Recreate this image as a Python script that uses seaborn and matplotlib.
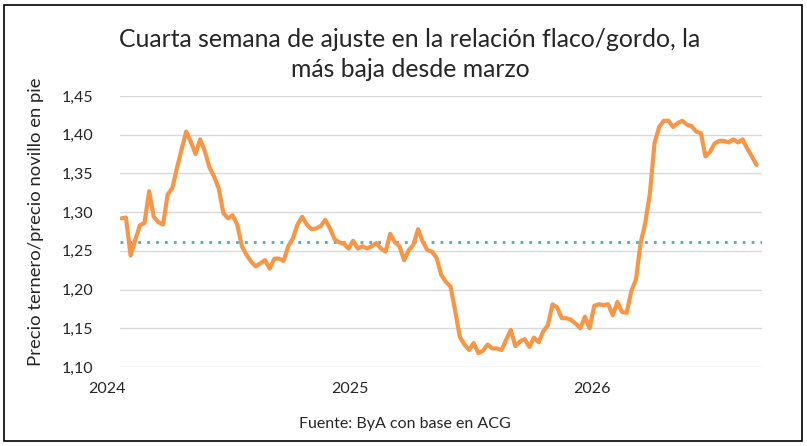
import matplotlib
matplotlib.use("Agg")
import matplotlib.pyplot as plt
import matplotlib.transforms as mtransforms
from matplotlib.patches import Rectangle
import seaborn as sns
import pandas as pd

# -----------------------------
# Data (weekly ratio)
# -----------------------------
start_date = "2024-01-22"
ratio = [
    1.292, 1.293, 1.244, 1.264, 1.283, 1.286, 1.327, 1.294, 1.287, 1.284,
    1.323, 1.331, 1.357, 1.381, 1.404, 1.391, 1.375, 1.394, 1.379, 1.358,
    1.346, 1.331, 1.299, 1.292, 1.296, 1.284, 1.256, 1.245, 1.236, 1.230,
    1.234, 1.238, 1.227, 1.240, 1.240, 1.237, 1.256, 1.266, 1.284, 1.294,
    1.284, 1.278, 1.279, 1.282, 1.290, 1.279, 1.265, 1.261, 1.259, 1.253,
    1.263, 1.253, 1.256, 1.253, 1.256, 1.260, 1.253, 1.249, 1.272, 1.261,
    1.256, 1.238, 1.251, 1.258, 1.278, 1.262, 1.251, 1.249, 1.241, 1.219,
    1.210, 1.204, 1.173, 1.139, 1.129, 1.122, 1.131, 1.118, 1.121, 1.129,
    1.124, 1.124, 1.122, 1.135, 1.148, 1.127, 1.133, 1.136, 1.126, 1.138,
    1.132, 1.146, 1.154, 1.181, 1.177, 1.163, 1.163, 1.161, 1.156, 1.150,
    1.165, 1.150, 1.179, 1.181, 1.180, 1.181, 1.167, 1.184, 1.171, 1.170,
    1.198, 1.213, 1.260, 1.286, 1.324, 1.389, 1.410, 1.418, 1.418, 1.410,
    1.415, 1.418, 1.413, 1.411, 1.404, 1.402, 1.372, 1.378, 1.389, 1.392,
    1.392, 1.390, 1.394, 1.390, 1.394, 1.382, 1.372, 1.361,
]
average = 1.262

year_ticks = ["2024-01-01", "2025-01-01", "2026-01-01"]
year_labels = ["2024", "2025", "2026"]
y_ticks = [1.10, 1.15, 1.20, 1.25, 1.30, 1.35, 1.40, 1.45]
y_labels = ["1,10", "1,15", "1,20", "1,25", "1,30", "1,35", "1,40", "1,45"]

df = pd.DataFrame({
    "fecha": pd.date_range(start_date, periods=len(ratio), freq="7D"),
    "ratio": ratio,
})

# -----------------------------
# Style
# -----------------------------
sns.set_style("white")
plt.rcParams["font.family"] = ["Lato", "DejaVu Sans"]

fig = plt.figure(figsize=(8.07, 4.46), dpi=100)
ax = fig.add_axes([0.1487, 0.1771, 0.7953, 0.6077])

sns.lineplot(data=df, x="fecha", y="ratio", ax=ax, color="#F79646",
             linewidth=3.0, zorder=3)
ax.axhline(average, color="#4BACC6", linestyle=(0, (1, 2.2)),
           linewidth=2.0, zorder=2)

ax.set_ylim(1.10, 1.45)
ax.set_yticks(y_ticks)
ax.set_yticklabels(y_labels, fontsize=11.5)
ax.set_xlim(df["fecha"].iloc[0] - pd.Timedelta(days=2),
            df["fecha"].iloc[-1] + pd.Timedelta(days=8))
ax.set_xticks([])
ax.grid(axis="y", color="#D9D9D9", linewidth=1.0)
ax.tick_params(axis="y", length=0, pad=19)
for s in ax.spines.values():
    s.set_visible(False)
ax.set_xlabel("")
ax.set_ylabel("Precio ternero/precio novillo en pie", fontsize=13.3)
ax.yaxis.set_label_coords(-0.118, 0.535)

# year labels (2024 sits left of the first week, so draw them as text)
trans = mtransforms.blended_transform_factory(ax.transData, ax.transAxes)
for d, lab in zip(year_ticks, year_labels):
    ax.text(pd.Timestamp(d), -0.055, lab, transform=trans, ha="center",
            va="top", fontsize=11.5, clip_on=False)

fig.text(0.508, 0.912, "Cuarta semana de ajuste en la relación flaco/gordo, la",
         ha="center", va="center", fontsize=17.8)
fig.text(0.508, 0.845, "más baja desde marzo", ha="center", va="center",
         fontsize=17.8)
fig.text(0.502, 0.05, "Fuente: ByA con base en ACG", ha="center",
         va="center", fontsize=11.5)

fig.patches.append(Rectangle((0.005, 0.012), 0.989, 0.976,
                             transform=fig.transFigure, fill=False,
                             edgecolor="black", linewidth=1.2))

fig.savefig("out.png", dpi=100)
